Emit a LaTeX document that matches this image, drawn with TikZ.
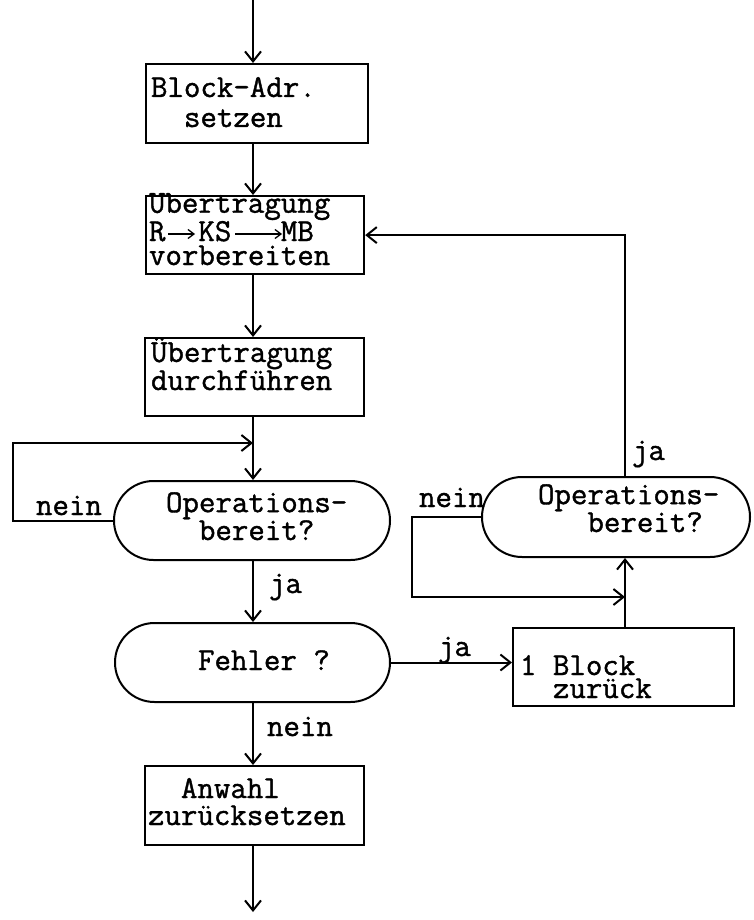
\documentclass[tikz,border=0pt]{standalone}
\usepackage{fontspec}
\newfontfamily\tw[FakeBold=1.2]{Latin Modern Mono}
\usetikzlibrary{arrows.meta,shapes.misc}
\begin{document}
\begin{tikzpicture}[x=1pt,y=-1pt,
  line width=2pt,
  every node/.style={font=\fontsize{32}{27}\selectfont\tw, inner sep=0pt},
  boxst/.style={draw, rectangle, anchor=north west, line width=2.2pt},
  decst/.style={draw, rounded rectangle, line width=2pt},
  txt/.style={anchor=base west, align=left},
  flow/.style={-{Straight Barb[length=10pt,width=16pt,line width=2pt]}},
  small arrow/.style={line width=1.3pt, -{Straight Barb[length=6pt,width=9pt,line width=1.3pt]}}]
\useasboundingbox[fill=white] (0,0) rectangle (753,920);

% spines of the two columns
\coordinate (spine) at (253,0);
\coordinate (rsp) at (625,0);
\coordinate (out) at (253,912);

% process boxes
\node[boxst, minimum width=222pt, minimum height=79pt] (b1) at (145,63) {};
\node[boxst, minimum width=218pt, minimum height=78pt] (b2) at (145,195) {};
\node[boxst, minimum width=219pt, minimum height=78pt] (b3) at (144,337) {};
\node[boxst, minimum width=219pt, minimum height=79pt] (b5) at (144,765) {};
\node[boxst, minimum width=221pt, minimum height=78pt] (b4) at (512,627) {};

% decisions
\node[decst, minimum width=276pt, minimum height=79pt] (d1) at (252,520.5) {};
\node[decst, minimum width=275pt, minimum height=79pt] (d2) at (252.5,662.5) {};
\node[decst, minimum width=268pt, minimum height=80pt] (d3) at (616,517) {};

% box texts (anchored on the baseline of their last line)
\node[txt] (b1t) at (150,127) {Block-Adr.\\[3pt]\phantom{xx}setzen};
\node[txt, font=\fontsize{32}{24}\selectfont\tw] (b2t) at (148,265)
  {Ubertragung\\R\phantom{xx}KS\phantom{xxx}MB\\vorbereiten};
\draw[small arrow] (168,234) -- (195,234);
\draw[small arrow] (235,234) -- (282,234);
\node[txt, font=\fontsize{32}{25}\selectfont\tw] (b3t) at (150,390) {Übertragung\\durchführen};
\node[txt] (b5t) at (147,825) {\phantom{xx}Anwahl\\zurücksetzen};
\node[txt, font=\fontsize{32}{23}\selectfont\tw] (b4t) at (519,698) {1 Block\\\phantom{xx}zurück};

% decision texts
\node[txt, font=\fontsize{32}{25}\selectfont\tw] (d1t) at (165,540) {Operations-\\\phantom{xx}bereit?};
\node[txt] (d2t) at (197,670) {Fehler ?};
\node[txt, font=\fontsize{32}{20}\selectfont\tw] (d3t) at (537,532) {Operations-\\\phantom{xxx}bereit?};

% main column
\draw[flow, line width=1.6pt] (spine) -- (spine |- b1.north);
\draw[flow] (b1.south -| spine) -- (b2.north -| spine);
\draw[flow] (b2.south -| spine) -- (b3.north -| spine);
\draw[flow] (b3.south -| spine) -- (d1.north -| spine);
\draw[flow] (d1.south -| spine) -- (d2.north -| spine);
\draw[flow] (d2.south -| spine) -- (b5.north -| spine);
\draw[flow] (b5.south -| spine) -- (out);

% wait loop on the left
\coordinate (lpA) at (13,443);
\draw[flow] (d1.west) -| (lpA) -- (lpA -| spine);

% error branch
\draw[flow] (d2.east) -- (d2.east -| b4.west);
\draw[flow] (b4.north -| rsp) -- (d3.south -| rsp);
\coordinate (lpB) at (412,597);
\draw[flow] (d3.west) -| (lpB) -- (lpB -| rsp);
\draw[flow] (d3.north -| rsp) -- (rsp |- b2.east) -- (b2.east);

% branch labels
\node[txt] (l1) at (35,515) {nein};
\node[txt] (l2) at (268,593) {ja};
\node[txt] (l3) at (437,656) {ja};
\node[txt] (l4) at (266,736) {nein};
\node[txt] (l5) at (418,507) {nein};
\node[txt] (l6) at (631,460) {ja};
\end{tikzpicture}
\end{document}
